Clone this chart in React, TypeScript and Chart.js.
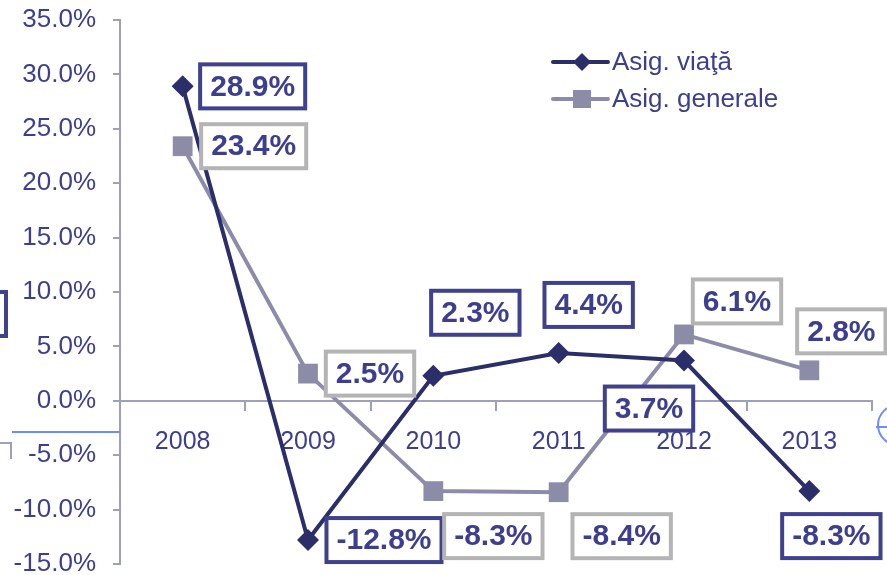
import React, { useEffect, useRef } from "react";
import { Chart, registerables } from "chart.js";

Chart.register(...registerables);

// ---- data ----
const years = ["2008", "2009", "2010", "2011", "2012", "2013"];
const viataValues = [28.9, -12.8, 2.3, 4.4, 3.7, -8.3];
const generaleValues = [23.4, 2.5, -8.3, -8.4, 6.1, 2.8];
const seriesNames = ["Asig. viaţă", "Asig. generale"];
const yMin = -15;
const yMax = 35;
const yStep = 5;

// ---- styles ----
const NAVY_LINE = "#2c2e6a";
const GREY_LINE = "#8d8ca8";
const TEXT = "#3d3f8e";
const AXIS = "#9d9fbb";
const BOX_BORDERS = ["#3f418e", "#b4b4b4"];
const FONT = '"Liberation Sans", Arial, sans-serif';
// label box centre offsets (px) relative to each point
const LABEL_OFFSETS = [
  [[70, 0], [76, 0], [42, -63], [30, -48], [-35, 48], [22, 45]],
  [[71, 0], [62, 0], [60, 45], [63, 44], [53, -33], [32, -39]],
];

const boxLabelPlugin = {
  id: "boxLabels",
  afterDatasetsDraw(chart: any) {
    const ctx: CanvasRenderingContext2D = chart.ctx;
    ctx.save();
    // decorations from the original slide
    ctx.lineWidth = 4;
    ctx.strokeStyle = BOX_BORDERS[0];
    ctx.strokeRect(-100, 292, 106, 44);
    ctx.lineWidth = 2;
    ctx.strokeStyle = "#6f8cff";
    ctx.beginPath();
    ctx.moveTo(12, 432);
    ctx.lineTo(120, 432);
    ctx.stroke();
    ctx.beginPath();
    ctx.arc(898, 425, 20, 0, Math.PI * 2);
    ctx.stroke();
    ctx.beginPath();
    ctx.moveTo(876, 427);
    ctx.lineTo(887, 427);
    ctx.stroke();
    ctx.strokeStyle = AXIS;
    ctx.beginPath();
    ctx.moveTo(0, 443);
    ctx.lineTo(11, 443);
    ctx.lineTo(11, 459);
    ctx.stroke();

    // data labels
    chart.data.datasets.forEach((ds: any, di: number) => {
      const meta = chart.getDatasetMeta(di);
      meta.data.forEach((pt: any, i: number) => {
        const v = ds.data[i] as number;
        const text = v.toFixed(1) + "%";
        const [dx, dy] = LABEL_OFFSETS[di][i];
        const cx = pt.x + dx;
        const cy = pt.y + dy;
        ctx.font = `bold 30px ${FONT}`;
        const w = ctx.measureText(text).width + 20;
        const h = 44;
        ctx.fillStyle = "#ffffff";
        ctx.fillRect(cx - w / 2, cy - h / 2, w, h);
        ctx.lineWidth = 4;
        ctx.strokeStyle = BOX_BORDERS[di];
        ctx.strokeRect(cx - w / 2, cy - h / 2, w, h);
        ctx.fillStyle = TEXT;
        ctx.textAlign = "center";
        ctx.textBaseline = "middle";
        ctx.fillText(text, cx, cy + 1);
      });
    });

    // legend
    const legendX1 = 553;
    const legendX2 = 608;
    const rows = [62, 99];
    const colors = [NAVY_LINE, GREY_LINE];
    rows.forEach((y, i) => {
      ctx.strokeStyle = colors[i];
      ctx.lineWidth = 4;
      ctx.lineCap = "round";
      ctx.beginPath();
      ctx.moveTo(legendX1, y);
      ctx.lineTo(legendX2, y);
      ctx.stroke();
      ctx.fillStyle = colors[i];
      const mx = 582;
      if (i === 0) {
        ctx.beginPath();
        ctx.moveTo(mx - 9, y);
        ctx.lineTo(mx, y - 9);
        ctx.lineTo(mx + 9, y);
        ctx.lineTo(mx, y + 9);
        ctx.closePath();
        ctx.fill();
      } else {
        ctx.fillRect(mx - 9, y - 9, 18, 18);
      }
      ctx.font = `26px ${FONT}`;
      ctx.fillStyle = TEXT;
      ctx.textAlign = "left";
      ctx.textBaseline = "middle";
      ctx.fillText(seriesNames[i], 612, y + 1);
    });
    ctx.restore();
  },
};

export default function App() {
  const canvasRef = useRef<HTMLCanvasElement | null>(null);

  useEffect(() => {
    document.body.style.margin = "0";
    const canvas = canvasRef.current;
    if (!canvas) return;
    const chart = new Chart(canvas, {
      type: "line",
      data: {
        labels: years,
        datasets: [
          {
            label: seriesNames[0],
            data: viataValues,
            borderColor: NAVY_LINE,
            backgroundColor: NAVY_LINE,
            borderWidth: 4,
            pointStyle: "rectRot",
            pointRadius: 11,
            pointBorderWidth: 0,
            pointBackgroundColor: NAVY_LINE,
            tension: 0,
          },
          {
            label: seriesNames[1],
            data: generaleValues,
            borderColor: GREY_LINE,
            backgroundColor: GREY_LINE,
            borderWidth: 4,
            pointStyle: "rect",
            pointRadius: 14,
            pointBorderWidth: 0,
            pointBackgroundColor: GREY_LINE,
            tension: 0,
          },
        ],
      },
      options: {
        responsive: false,
        animation: false,
        layout: { autoPadding: false, padding: { top: 20, bottom: 11, left: 0, right: 15 } },
        plugins: {
          legend: { display: false },
          tooltip: { enabled: false },
        },
        scales: {
          x: {
            type: "category",
            position: { y: 0 } as any,
            offset: true,
            grid: {
              offset: true,
              drawOnChartArea: false,
              drawTicks: true,
              tickLength: 9,
              color: AXIS,
              lineWidth: 2,
            },
            border: { display: true, color: AXIS, width: 2 },
            ticks: {
              color: TEXT,
              font: { family: FONT, size: 25 },
              padding: 17,
              maxRotation: 0,
            },
            afterFit: (s: any) => {
              s.height = 0;
              s.paddingTop = 0;
              s.paddingBottom = 0;
            },
          },
          y: {
            min: yMin,
            max: yMax,
            grid: {
              drawOnChartArea: false,
              drawTicks: true,
              tickLength: 7,
              color: AXIS,
              lineWidth: 2,
            },
            border: { display: true, color: AXIS, width: 2 },
            ticks: {
              stepSize: yStep,
              color: TEXT,
              font: { family: FONT, size: 26 },
              padding: 17,
              callback: (v: any) => Number(v).toFixed(1) + "%",
            },
            afterFit: (s: any) => {
              s.width = 120;
              s.paddingTop = 0;
              s.paddingBottom = 0;
            },
          },
        },
      },
      plugins: [boxLabelPlugin],
    });
    return () => chart.destroy();
  }, []);

  return (
    <div style={{ position: "absolute", left: 0, top: 0 }}>
      <canvas ref={canvasRef} width={887} height={575} style={{ display: "block" }} />
    </div>
  );
}
